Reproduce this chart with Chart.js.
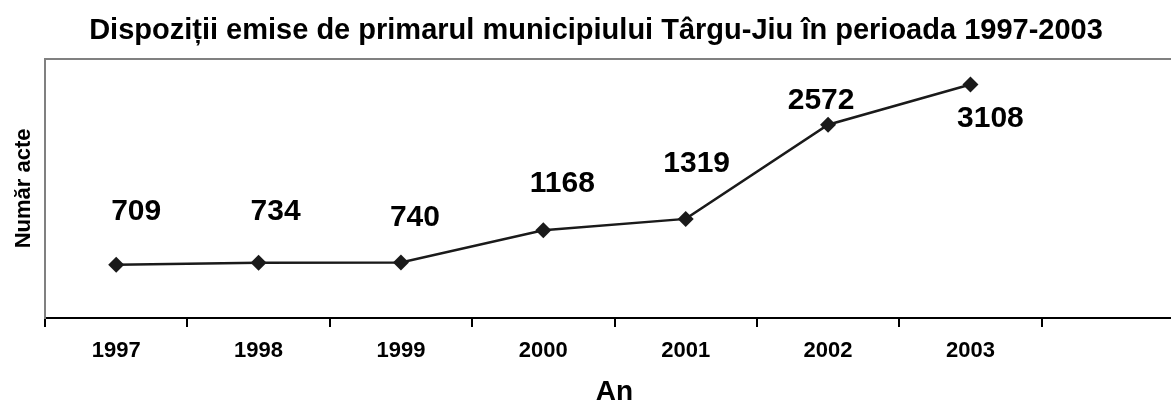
<!DOCTYPE html>
<html>
<head>
<meta charset="utf-8">
<script src="https://cdn.jsdelivr.net/npm/chart.js@4.4.1/dist/chart.umd.min.js"></script>
<style>
  html, body { margin: 0; padding: 0; background: #fff; overflow: hidden; }
  #wrap { width: 1171px; height: 407px; overflow: hidden; }
</style>
</head>
<body>
<div id="wrap"><canvas id="myChart" width="1192" height="407"></canvas></div>
<script>
// data
const years = ['1997', '1998', '1999', '2000', '2001', '2002', '2003'];
const acte = [709, 734, 740, 1168, 1319, 2572, 3108];

// the original chart has one empty category after 2003
const xLabels = years.concat(['']);

const ink = '#1a1a1a';
const font = 'Liberation Sans, Arial, sans-serif';

// value labels were moved by hand in the original, so each one gets its own nudge
const valueLabels = {
  id: 'valueLabels',
  afterDatasetsDraw(chart, args, opts) {
    const ctx = chart.ctx;
    const meta = chart.getDatasetMeta(0);
    ctx.save();
    ctx.font = 'bold 30px ' + font;
    ctx.fillStyle = '#000';
    ctx.textAlign = 'center';
    ctx.textBaseline = 'middle';
    meta.data.forEach((pt, i) => {
      const off = opts.nudge[i] || [0, -50];
      ctx.fillText(String(chart.data.datasets[0].data[i]), pt.x + off[0], pt.y + off[1]);
    });
    ctx.restore();
  }
};

var ctx = document.getElementById('myChart').getContext('2d');
var myChart = new Chart(ctx, {
  type: 'line',
  data: {
    labels: xLabels,
    datasets: [{
      data: acte,
      label: 'Număr acte',
      borderColor: ink,
      backgroundColor: ink,
      borderWidth: 2.5,
      pointStyle: 'rectRot',
      pointRadius: 8,
      pointBackgroundColor: ink,
      pointBorderColor: ink,
      pointBorderWidth: 0,
      fill: false,
      tension: 0
    }]
  },
  plugins: [valueLabels],
  options: {
    responsive: false,
    animation: false,
    layout: { padding: 0 },
    plugins: {
      legend: { display: false },
      tooltip: { enabled: false },
      title: {
        display: true,
        text: 'Dispoziții emise de primarul municipiului Târgu-Jiu în perioada 1997-2003',
        color: '#000',
        font: { family: font, size: 29, weight: 'bold' },
        padding: { top: 14, bottom: 10 }
      },
      valueLabels: {
        nudge: [[20, -53], [17, -51], [14, -45], [19, -47], [11, -55], [-7, -24], [20, 34]]
      }
    },
    scales: {
      x: {
        type: 'category',
        offset: true,
        afterFit(scale) { scale.height = 89; },
        grid: {
          display: true,
          offset: true,
          drawOnChartArea: false,
          drawTicks: true,
          tickLength: 9,
          color: '#000',
          lineWidth: 2
        },
        border: { display: true, color: '#000', width: 2 },
        ticks: {
          color: '#000',
          font: { family: font, size: 22, weight: 'bold' },
          padding: 11,
          maxRotation: 0,
          autoSkip: false
        },
        title: {
          display: true,
          text: 'An',
          color: '#000',
          font: { family: font, size: 28, weight: 'bold' },
          padding: { top: 0, bottom: -2 }
        }
      },
      y: {
        min: 0,
        max: 3450,
        afterFit(scale) { scale.width = 45; },
        afterBuildTicks(scale) { scale.ticks = [{ value: 0 }, { value: 3450 }]; },
        grid: {
          display: true,
          drawTicks: false,
          lineWidth: 2,
          color: c => (c.index === 1 ? '#808080' : 'rgba(0,0,0,0)')
        },
        border: { display: true, color: '#808080', width: 2 },
        ticks: { display: false },
        title: {
          display: true,
          text: 'Număr acte',
          color: '#000',
          font: { family: font, size: 22, weight: 'bold' },
          padding: { top: 11, bottom: 0 }
        }
      }
    }
  }
});
</script>
</body>
</html>
